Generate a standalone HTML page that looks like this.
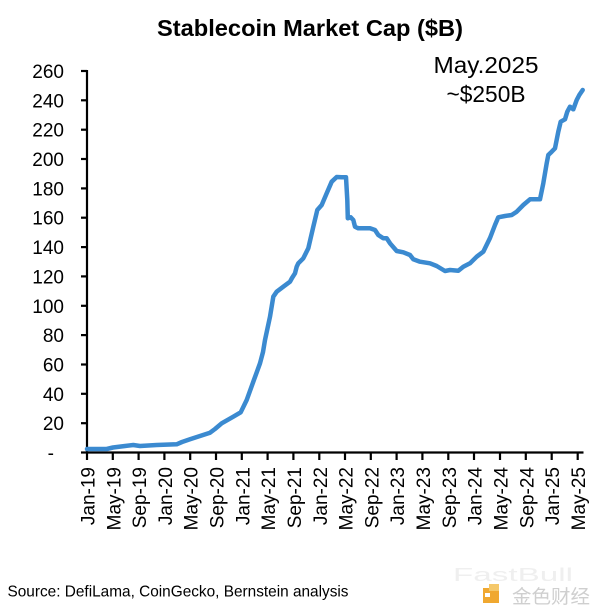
<!DOCTYPE html>
<html>
<head>
<meta charset="utf-8">
<style>
  html, body { margin:0; padding:0; background:#ffffff; }
  body { width:600px; height:616px; overflow:hidden; }
  svg { display:block; }
  text { font-family: "Liberation Sans", Arial, sans-serif; fill:#000; }
</style>
</head>
<body>
<svg width="600" height="616" viewBox="0 0 600 616" xmlns="http://www.w3.org/2000/svg">
  <rect x="0" y="0" width="600" height="616" fill="#ffffff"/>

  <!-- Title -->
  <text x="310" y="36" font-size="23" font-weight="bold" text-anchor="middle" textLength="306" lengthAdjust="spacingAndGlyphs">Stablecoin Market Cap ($B)</text>

  <!-- Annotation -->
  <text x="486" y="73" font-size="23" text-anchor="middle" textLength="105" lengthAdjust="spacingAndGlyphs">May.2025</text>
  <text x="486" y="102" font-size="23" text-anchor="middle" textLength="79" lengthAdjust="spacingAndGlyphs">~$250B</text>

  <!-- Y axis -->
  <g stroke="#000" stroke-width="2.2">
    <line x1="87" y1="70" x2="87" y2="453.5"/>
    <line x1="81" y1="71" x2="87" y2="71"/>
    <line x1="81" y1="100.3" x2="87" y2="100.3"/>
    <line x1="81" y1="129.7" x2="87" y2="129.7"/>
    <line x1="81" y1="159" x2="87" y2="159"/>
    <line x1="81" y1="188.4" x2="87" y2="188.4"/>
    <line x1="81" y1="217.7" x2="87" y2="217.7"/>
    <line x1="81" y1="247.1" x2="87" y2="247.1"/>
    <line x1="81" y1="276.4" x2="87" y2="276.4"/>
    <line x1="81" y1="305.8" x2="87" y2="305.8"/>
    <line x1="81" y1="335.1" x2="87" y2="335.1"/>
    <line x1="81" y1="364.5" x2="87" y2="364.5"/>
    <line x1="81" y1="393.8" x2="87" y2="393.8"/>
    <line x1="81" y1="423.2" x2="87" y2="423.2"/>
    <line x1="81" y1="452.5" x2="87" y2="452.5"/>
  </g>
  <g font-size="19" text-anchor="end">
    <text x="64" y="78">260</text>
    <text x="64" y="107.3">240</text>
    <text x="64" y="136.7">220</text>
    <text x="64" y="166">200</text>
    <text x="64" y="195.4">180</text>
    <text x="64" y="224.7">160</text>
    <text x="64" y="254.1">140</text>
    <text x="64" y="283.4">120</text>
    <text x="64" y="312.8">100</text>
    <text x="64" y="342.1">80</text>
    <text x="64" y="371.5">60</text>
    <text x="64" y="400.8">40</text>
    <text x="64" y="430.2">20</text>
    <text x="54" y="459.5">-</text>
  </g>

  <!-- X axis -->
  <g stroke="#000" stroke-width="2.2">
    <line x1="86" y1="452.5" x2="583.5" y2="452.5"/>
    <line x1="87" y1="452.5" x2="87" y2="460"/>
    <line x1="112.8" y1="452.5" x2="112.8" y2="460"/>
    <line x1="138.6" y1="452.5" x2="138.6" y2="460"/>
    <line x1="164.4" y1="452.5" x2="164.4" y2="460"/>
    <line x1="190.2" y1="452.5" x2="190.2" y2="460"/>
    <line x1="216" y1="452.5" x2="216" y2="460"/>
    <line x1="241.8" y1="452.5" x2="241.8" y2="460"/>
    <line x1="267.6" y1="452.5" x2="267.6" y2="460"/>
    <line x1="293.4" y1="452.5" x2="293.4" y2="460"/>
    <line x1="319.3" y1="452.5" x2="319.3" y2="460"/>
    <line x1="345" y1="452.5" x2="345" y2="460"/>
    <line x1="370.8" y1="452.5" x2="370.8" y2="460"/>
    <line x1="396.6" y1="452.5" x2="396.6" y2="460"/>
    <line x1="422.4" y1="452.5" x2="422.4" y2="460"/>
    <line x1="448.3" y1="452.5" x2="448.3" y2="460"/>
    <line x1="474" y1="452.5" x2="474" y2="460"/>
    <line x1="500" y1="452.5" x2="500" y2="460"/>
    <line x1="525.8" y1="452.5" x2="525.8" y2="460"/>
    <line x1="551.7" y1="452.5" x2="551.7" y2="460"/>
    <line x1="577.7" y1="452.5" x2="577.7" y2="460"/>
  </g>
  <g font-size="19" text-anchor="end">
    <text transform="translate(94.5,467) rotate(-90)">Jan-19</text>
    <text transform="translate(120.3,467) rotate(-90)">May-19</text>
    <text transform="translate(146.1,467) rotate(-90)">Sep-19</text>
    <text transform="translate(171.9,467) rotate(-90)">Jan-20</text>
    <text transform="translate(197.7,467) rotate(-90)">May-20</text>
    <text transform="translate(223.5,467) rotate(-90)">Sep-20</text>
    <text transform="translate(249.3,467) rotate(-90)">Jan-21</text>
    <text transform="translate(275.1,467) rotate(-90)">May-21</text>
    <text transform="translate(300.9,467) rotate(-90)">Sep-21</text>
    <text transform="translate(326.8,467) rotate(-90)">Jan-22</text>
    <text transform="translate(352.5,467) rotate(-90)">May-22</text>
    <text transform="translate(378.3,467) rotate(-90)">Sep-22</text>
    <text transform="translate(404.1,467) rotate(-90)">Jan-23</text>
    <text transform="translate(429.9,467) rotate(-90)">May-23</text>
    <text transform="translate(455.8,467) rotate(-90)">Sep-23</text>
    <text transform="translate(481.5,467) rotate(-90)">Jan-24</text>
    <text transform="translate(507.5,467) rotate(-90)">May-24</text>
    <text transform="translate(533.3,467) rotate(-90)">Sep-24</text>
    <text transform="translate(559.2,467) rotate(-90)">Jan-25</text>
    <text transform="translate(585.2,467) rotate(-90)">May-25</text>
  </g>

  <!-- Series -->
  <polyline fill="none" stroke="#3b8ad0" stroke-width="4.5" stroke-linejoin="round" stroke-linecap="round"
    points="87,449 100,449 106.7,449 113,447.5 125,446 133.3,445 140,446 156.7,445 170,444.5 176.7,444.3 182,442 190,439.3 200,436 210,432.7 215,429 221.7,423.3 233.3,416.7 240.7,412.3 246.7,400 253.3,381.7 260,363.3 263,352 265,340 270,316.7 273.3,296.7 276.7,291.7 283.3,286.7 290,281.7 292,278 295,273.3 296.7,266.7 298.3,263.3 303.3,258.3 308.3,248.3 313.3,226.7 317.3,210 321.7,205 326.7,193.3 331.7,181.7 336.7,177 341.7,177.3 346,177.3 347.3,200 347.8,218.3 350.7,217.3 353.3,220 355,226.7 358.3,228.3 363.3,228.3 370,228.3 375,230 378.3,235 383.3,238.3 386.7,238.3 390,243.3 396.7,251 403.3,252.3 410,255 413.3,259.3 420,261.7 430,263.3 436.7,266 445,271 450,270 458.3,270.7 463.3,266.7 470,263.3 476.7,256.7 483.3,251.7 485,248.3 490,238 495,225 498.3,217.3 505,216 511.7,215 516.7,211.7 523.3,205 530,199.3 536.7,199.3 540,199.3 543.3,183.3 546.7,163.3 548.3,155 551.7,151.7 555,148.3 558.3,131.7 560.7,121.7 565,119.3 567.3,111.7 570,106.7 573.3,109.3 576.7,100 579.3,95 582.7,90"/>

  <!-- Source -->
  <text x="7.5" y="596.5" font-size="16" textLength="341" lengthAdjust="spacingAndGlyphs">Source: DefiLama, CoinGecko, Bernstein analysis</text>

  <!-- Watermark -->
  <text x="453" y="581" font-size="18" fill="#efefef" style="fill:#efefef" textLength="120" lengthAdjust="spacingAndGlyphs">FastBull</text>
  <rect x="483" y="588" width="16" height="15" fill="#f0a830"/>
  <rect x="489" y="584" width="10" height="7" fill="#f5c86a"/>
  <rect x="485" y="593" width="5" height="4" fill="#ffffff"/>
  <text x="512" y="603" font-size="19" style="fill:#cfcfcf" font-family="'Liberation Sans','Noto Sans CJK SC',sans-serif" textLength="78" lengthAdjust="spacingAndGlyphs">金色财经</text>
</svg>
</body>
</html>
